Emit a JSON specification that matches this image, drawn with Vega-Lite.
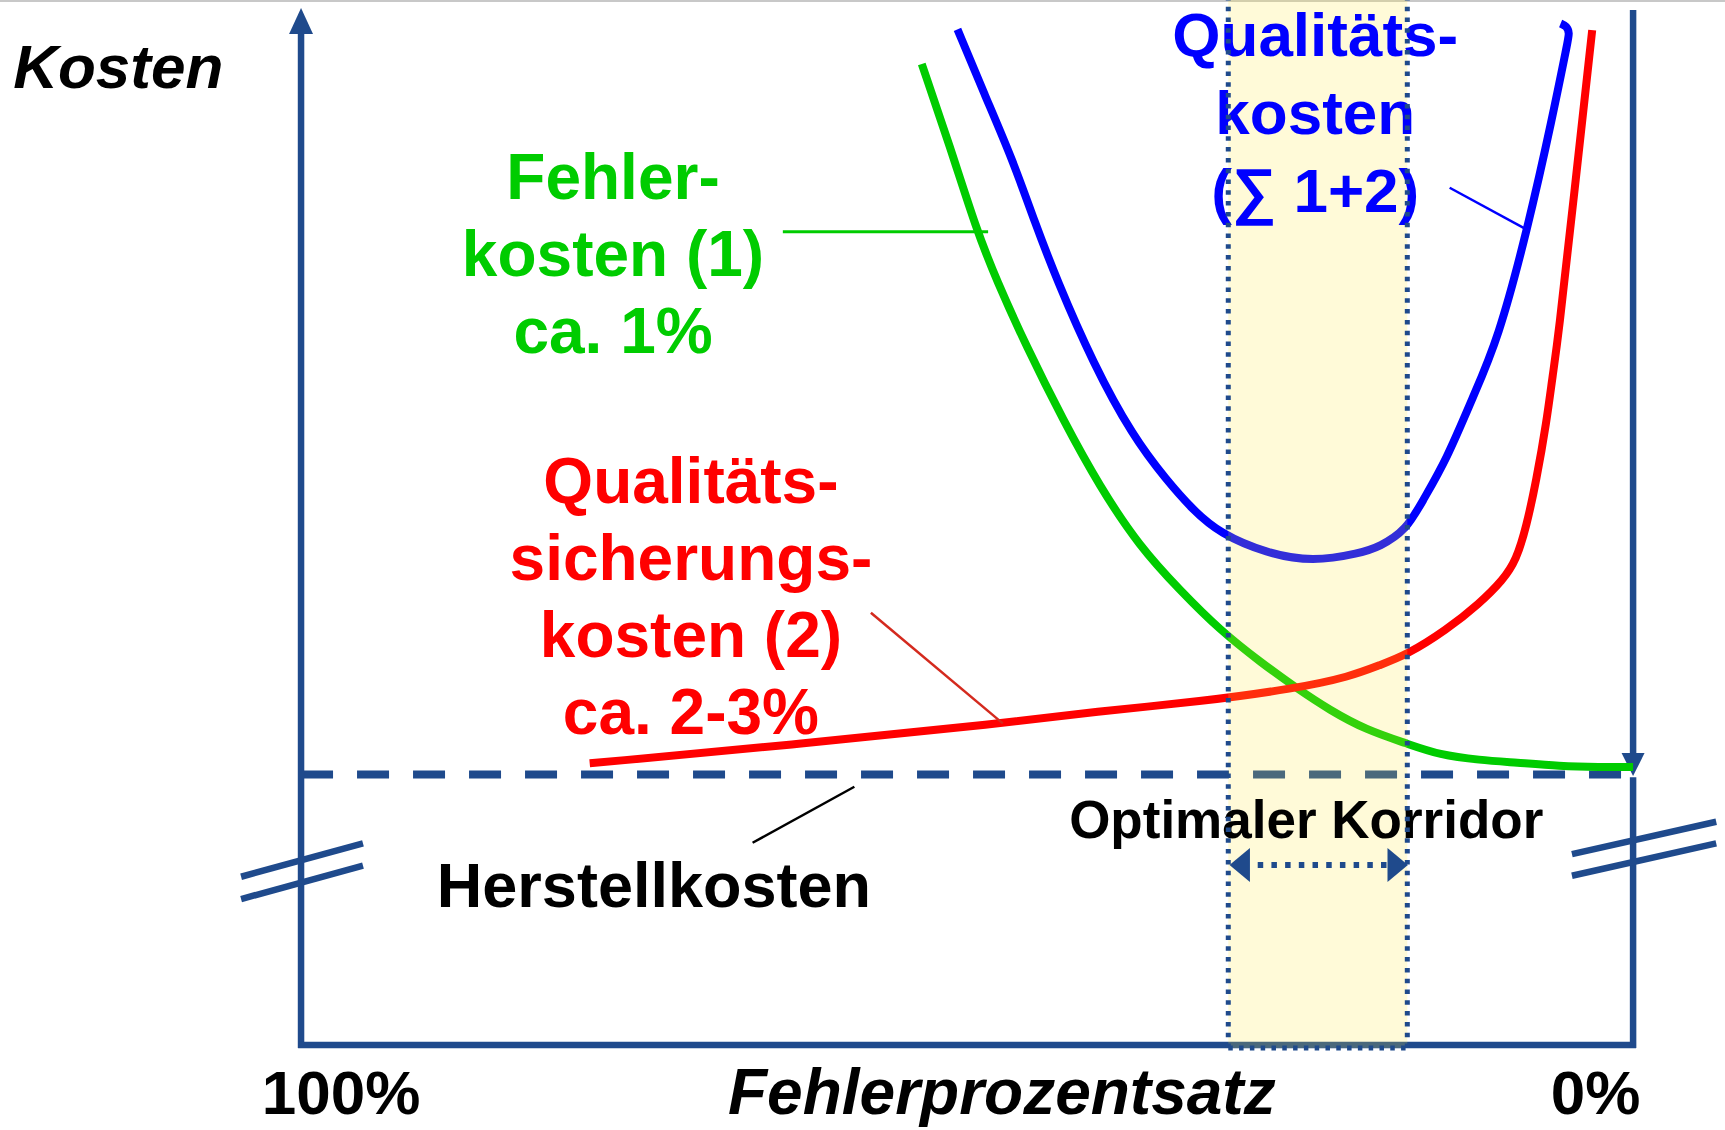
{
  "$schema": "https://vega.github.io/schema/vega-lite/v6.json",
  "width": 1725,
  "height": 1130,
  "padding": 0,
  "autosize": {"type": "none"},
  "background": "white",
  "config": {"view": {"stroke": null}},
  "datasets": {
    "curves": [
      {"series": "Fehlerkosten", "i": 0, "x": 53.40, "y": 362.53},
      {"series": "Fehlerkosten", "i": 1, "x": 51.29, "y": 332.23},
      {"series": "Fehlerkosten", "i": 2, "x": 49.29, "y": 301.18},
      {"series": "Fehlerkosten", "i": 3, "x": 47.79, "y": 282.71},
      {"series": "Fehlerkosten", "i": 4, "x": 45.54, "y": 258.06},
      {"series": "Fehlerkosten", "i": 5, "x": 42.79, "y": 230.97},
      {"series": "Fehlerkosten", "i": 6, "x": 40.04, "y": 206.32},
      {"series": "Fehlerkosten", "i": 7, "x": 37.04, "y": 184.15},
      {"series": "Fehlerkosten", "i": 8, "x": 34.03, "y": 168.15},
      {"series": "Fehlerkosten", "i": 9, "x": 31.03, "y": 153.36},
      {"series": "Fehlerkosten", "i": 11, "x": 27.88, "y": 141.17},
      {"series": "Fehlerkosten", "i": 12, "x": 25.28, "y": 131.93},
      {"series": "Fehlerkosten", "i": 13, "x": 22.78, "y": 123.80},
      {"series": "Fehlerkosten", "i": 14, "x": 20.02, "y": 116.41},
      {"series": "Fehlerkosten", "i": 15, "x": 17.02, "y": 111.49},
      {"series": "Fehlerkosten", "i": 16, "x": 14.52, "y": 107.17},
      {"series": "Fehlerkosten", "i": 17, "x": 11.52, "y": 105.32},
      {"series": "Fehlerkosten", "i": 18, "x": 8.77, "y": 104.40},
      {"series": "Fehlerkosten", "i": 19, "x": 5.52, "y": 103.10},
      {"series": "Fehlerkosten", "i": 20, "x": 2.51, "y": 102.73},
      {"series": "Fehlerkosten", "i": 21, "x": 0.0, "y": 102.73},
      {"series": "Qualitätssicherungskosten", "i": 0, "x": 78.33, "y": 104.10},
      {"series": "Qualitätssicherungskosten", "i": 1, "x": 62.55, "y": 111.23},
      {"series": "Qualitätssicherungskosten", "i": 2, "x": 47.32, "y": 118.88},
      {"series": "Qualitätssicherungskosten", "i": 3, "x": 40.04, "y": 123.43},
      {"series": "Qualitätssicherungskosten", "i": 4, "x": 32.53, "y": 126.87},
      {"series": "Qualitätssicherungskosten", "i": 6, "x": 25.28, "y": 131.82},
      {"series": "Qualitätssicherungskosten", "i": 7, "x": 21.28, "y": 136.10},
      {"series": "Qualitätssicherungskosten", "i": 8, "x": 19.02, "y": 140.43},
      {"series": "Qualitätssicherungskosten", "i": 9, "x": 17.02, "y": 144.12},
      {"series": "Qualitätssicherungskosten", "i": 10, "x": 14.02, "y": 153.36},
      {"series": "Qualitätssicherungskosten", "i": 11, "x": 11.52, "y": 163.23},
      {"series": "Qualitätssicherungskosten", "i": 12, "x": 9.77, "y": 171.84},
      {"series": "Qualitätssicherungskosten", "i": 13, "x": 8.77, "y": 179.23},
      {"series": "Qualitätssicherungskosten", "i": 14, "x": 8.01, "y": 191.54},
      {"series": "Qualitätssicherungskosten", "i": 15, "x": 7.26, "y": 208.80},
      {"series": "Qualitätssicherungskosten", "i": 16, "x": 6.51, "y": 229.75},
      {"series": "Qualitätssicherungskosten", "i": 17, "x": 6.02, "y": 248.23},
      {"series": "Qualitätssicherungskosten", "i": 18, "x": 5.64, "y": 260.53},
      {"series": "Qualitätssicherungskosten", "i": 19, "x": 4.39, "y": 315.97},
      {"series": "Qualitätssicherungskosten", "i": 20, "x": 3.07, "y": 375.09},
      {"series": "Qualitätskosten", "i": 0, "x": 50.72, "y": 375.35},
      {"series": "Qualitätskosten", "i": 1, "x": 48.67, "y": 351.07},
      {"series": "Qualitätskosten", "i": 2, "x": 46.57, "y": 327.05},
      {"series": "Qualitätskosten", "i": 3, "x": 44.92, "y": 304.14},
      {"series": "Qualitätskosten", "i": 4, "x": 43.26, "y": 282.71},
      {"series": "Qualitätskosten", "i": 5, "x": 40.54, "y": 251.92},
      {"series": "Qualitätskosten", "i": 6, "x": 37.54, "y": 224.80},
      {"series": "Qualitätskosten", "i": 7, "x": 35.03, "y": 208.80},
      {"series": "Qualitätskosten", "i": 8, "x": 33.04, "y": 197.71},
      {"series": "Qualitätskosten", "i": 9, "x": 31.03, "y": 189.10},
      {"series": "Qualitätskosten", "i": 10, "x": 27.53, "y": 181.71},
      {"series": "Qualitätskosten", "i": 11, "x": 24.03, "y": 178.60},
      {"series": "Qualitätskosten", "i": 12, "x": 20.53, "y": 181.71},
      {"series": "Qualitätskosten", "i": 13, "x": 19.02, "y": 184.15},
      {"series": "Qualitätskosten", "i": 14, "x": 17.02, "y": 190.32},
      {"series": "Qualitätskosten", "i": 15, "x": 15.77, "y": 201.40},
      {"series": "Qualitätskosten", "i": 16, "x": 14.02, "y": 216.19},
      {"series": "Qualitätskosten", "i": 17, "x": 12.02, "y": 239.58},
      {"series": "Qualitätskosten", "i": 18, "x": 10.15, "y": 260.53},
      {"series": "Qualitätskosten", "i": 19, "x": 7.94, "y": 301.18},
      {"series": "Qualitätskosten", "i": 20, "x": 6.04, "y": 343.05},
      {"series": "Qualitätskosten", "i": 21, "x": 4.92, "y": 370.66},
      {"series": "Qualitätskosten", "i": 22, "x": 4.77, "y": 373.98},
      {"series": "Qualitätskosten", "i": 23, "x": 4.99, "y": 376.57},
      {"series": "Qualitätskosten", "i": 24, "x": 5.44, "y": 377.50}
    ],
    "segments": [
      {"kind": "rand", "x": 122.6, "y": 385.8, "x2": -6.9, "y2": 385.8},
      {"kind": "herstell", "x": 100, "y": 100, "x2": 0.3, "y2": 100},
      {"kind": "achse", "x": 100, "y": -1.1, "x2": 100, "y2": 375.1},
      {"kind": "achse", "x": 100.22, "y": 0, "x2": -0.22, "y2": 0},
      {"kind": "achse", "x": 0, "y": 382.5, "x2": 0, "y2": 106},
      {"kind": "achse", "x": 0, "y": 99, "x2": 0, "y2": -1.1},
      {"kind": "achse", "x": 104.5, "y": 62.19, "x2": 95.35, "y2": 74.54},
      {"kind": "achse", "x": 104.5, "y": 53.95, "x2": 95.35, "y2": 66.26},
      {"kind": "achse", "x": 4.59, "y": 70.58, "x2": -6.24, "y2": 82.52},
      {"kind": "achse", "x": 4.59, "y": 62.56, "x2": -6.24, "y2": 74.54},
      {"kind": "leader_fehler", "x": 63.83, "y": 300.56, "x2": 48.42, "y2": 300.56},
      {"kind": "leader_qs", "x": 57.22, "y": 159.76, "x2": 47.32, "y2": 118.88},
      {"kind": "leader_q", "x": 13.77, "y": 316.82, "x2": 8.01, "y2": 301.44},
      {"kind": "leader_herstell", "x": 66.10, "y": 74.76, "x2": 58.46, "y2": 95.45},
      {"kind": "korridor", "x": 30.39, "y": -1.1, "x2": 30.39, "y2": 386.5},
      {"kind": "korridor", "x": 16.95, "y": -1.1, "x2": 16.95, "y2": 386.5},
      {"kind": "korridor", "x": 30.39, "y": -1.1, "x2": 16.95, "y2": -1.1},
      {"kind": "korridorpfeil", "x": 28.18, "y": 66.52, "x2": 18.27, "y2": 66.52}
    ],
    "corridor": [
      {"x": 30.39, "x2": 16.95, "y": -1.1, "y2": 386.5}
    ],
    "arrows": [
      {"kind": "hoch", "x": 100, "y": 378.42},
      {"kind": "runter", "x": 0, "y": 103.66},
      {"kind": "links", "x": 29.53, "y": 66.52},
      {"kind": "rechts", "x": 17.67, "y": 66.52}
    ],
    "labels": [
      {"kind": "ytitel", "text": "Kosten", "x": 121.61, "y": 353.66},
      {"kind": "xtitel", "text": "Fehlerprozentsatz", "x": 47.39, "y": -25.5},
      {"kind": "tick", "text": "100%", "x": 97.0, "y": -25.5},
      {"kind": "tick", "text": "0%", "x": 2.81, "y": -25.5},
      {"kind": "herstell", "text": "Herstellkosten", "x": 73.51, "y": 51.0},
      {"kind": "korridor", "text": "Optimaler Korridor", "x": 24.54, "y": 76.5},
      {"kind": "fehler", "text": ["Fehler-", "kosten (1)", "ca. 1%"], "x": 76.58, "y": 312.53},
      {"kind": "qs", "text": ["Qualitäts-", "sicherungs-", "kosten (2)", "ca. 2-3%"], "x": 70.73, "y": 200.19},
      {"kind": "q", "text": ["Qualitäts-", "kosten", "(∑ 1+2)"], "x": 23.86, "y": 365.49}
    ]
  },
  "encoding": {
    "x": {"field": "x", "type": "quantitative", "scale": {"domain": [-6.9, 122.6], "reverse": true, "nice": false, "zero": false}, "axis": null},
    "y": {"field": "y", "type": "quantitative", "scale": {"domain": [-31.4, 386.2], "nice": false, "zero": false}, "axis": null}
  },
  "layer": [
    {
      "data": {"name": "segments"},
      "transform": [{"filter": "datum.kind === 'rand'"}],
      "mark": {"type": "rule", "color": "#C8C8C8", "strokeWidth": 2},
      "encoding": {"x2": {"field": "x2"}, "y2": {"field": "y2"}}
    },
    {
      "data": {"name": "segments"},
      "transform": [{"filter": "datum.kind === 'herstell'"}],
      "mark": {"type": "rule", "color": "#1F4A8C", "strokeWidth": 8, "strokeDash": [32, 24]},
      "encoding": {"x2": {"field": "x2"}, "y2": {"field": "y2"}}
    },
    {
      "data": {"name": "segments"},
      "transform": [{"filter": "datum.kind === 'achse'"}],
      "mark": {"type": "rule", "color": "#1F4A8C", "strokeWidth": 6.5},
      "encoding": {"x2": {"field": "x2"}, "y2": {"field": "y2"}}
    },
    {
      "data": {"name": "arrows"},
      "transform": [{"filter": "datum.kind === 'hoch'"}],
      "mark": {"type": "point", "shape": "M0,-1L0.92,1L-0.92,1Z", "filled": true, "color": "#1F4A8C", "opacity": 1, "size": 676, "strokeWidth": 0}
    },
    {
      "data": {"name": "arrows"},
      "transform": [{"filter": "datum.kind === 'runter'"}],
      "mark": {"type": "point", "shape": "M0,1L1,-1L-1,-1Z", "filled": true, "color": "#1F4A8C", "opacity": 1, "size": 529, "strokeWidth": 0}
    },
    {
      "data": {"name": "curves"},
      "mark": {"type": "line", "strokeWidth": 8, "interpolate": "basis", "strokeJoin": "round"},
      "encoding": {
        "order": {"field": "i", "type": "quantitative"},
        "color": {"field": "series", "type": "nominal", "scale": {"domain": ["Fehlerkosten", "Qualitätssicherungskosten", "Qualitätskosten"], "range": ["#00CC00", "#FF0000", "#0000FF"]}, "legend": null}
      }
    },
    {
      "data": {"name": "segments"},
      "transform": [{"filter": "datum.kind === 'leader_fehler'"}],
      "mark": {"type": "rule", "color": "#00CC00", "strokeWidth": 3},
      "encoding": {"x2": {"field": "x2"}, "y2": {"field": "y2"}}
    },
    {
      "data": {"name": "segments"},
      "transform": [{"filter": "datum.kind === 'leader_qs'"}],
      "mark": {"type": "rule", "color": "#D42A1E", "strokeWidth": 2.5},
      "encoding": {"x2": {"field": "x2"}, "y2": {"field": "y2"}}
    },
    {
      "data": {"name": "segments"},
      "transform": [{"filter": "datum.kind === 'leader_q'"}],
      "mark": {"type": "rule", "color": "#0000FF", "strokeWidth": 2.5},
      "encoding": {"x2": {"field": "x2"}, "y2": {"field": "y2"}}
    },
    {
      "data": {"name": "segments"},
      "transform": [{"filter": "datum.kind === 'leader_herstell'"}],
      "mark": {"type": "rule", "color": "#000000", "strokeWidth": 2.5},
      "encoding": {"x2": {"field": "x2"}, "y2": {"field": "y2"}}
    },
    {
      "data": {"name": "corridor"},
      "mark": {"type": "rect", "color": "#FFE63C", "opacity": 0.2},
      "encoding": {"x2": {"field": "x2"}, "y2": {"field": "y2"}}
    },
    {
      "data": {"name": "labels"},
      "transform": [{"filter": "datum.kind === 'ytitel'"}],
      "mark": {"type": "text", "font": "Liberation Sans", "fontWeight": "bold", "fontStyle": "italic", "fontSize": 62, "align": "left", "baseline": "alphabetic", "color": "#000000"},
      "encoding": {"text": {"field": "text", "type": "nominal"}}
    },
    {
      "data": {"name": "labels"},
      "transform": [{"filter": "datum.kind === 'xtitel'"}],
      "mark": {"type": "text", "font": "Liberation Sans", "fontWeight": "bold", "fontStyle": "italic", "fontSize": 64, "align": "center", "baseline": "alphabetic", "color": "#000000"},
      "encoding": {"text": {"field": "text", "type": "nominal"}}
    },
    {
      "data": {"name": "labels"},
      "transform": [{"filter": "datum.kind === 'tick'"}],
      "mark": {"type": "text", "font": "Liberation Sans", "fontWeight": "bold", "fontSize": 62, "align": "center", "baseline": "alphabetic", "color": "#000000"},
      "encoding": {"text": {"field": "text", "type": "nominal"}}
    },
    {
      "data": {"name": "labels"},
      "transform": [{"filter": "datum.kind === 'herstell'"}],
      "mark": {"type": "text", "font": "Liberation Sans", "fontWeight": "bold", "fontSize": 63, "align": "center", "baseline": "alphabetic", "color": "#000000"},
      "encoding": {"text": {"field": "text", "type": "nominal"}}
    },
    {
      "data": {"name": "labels"},
      "transform": [{"filter": "datum.kind === 'korridor'"}],
      "mark": {"type": "text", "font": "Liberation Sans", "fontWeight": "bold", "fontSize": 53, "align": "center", "baseline": "alphabetic", "color": "#000000"},
      "encoding": {"text": {"field": "text", "type": "nominal"}}
    },
    {
      "data": {"name": "labels"},
      "transform": [{"filter": "datum.kind === 'fehler'"}],
      "mark": {"type": "text", "font": "Liberation Sans", "fontWeight": "bold", "fontSize": 64, "lineHeight": 77, "align": "center", "baseline": "alphabetic", "color": "#00CC00"},
      "encoding": {"text": {"field": "text", "type": "nominal"}}
    },
    {
      "data": {"name": "labels"},
      "transform": [{"filter": "datum.kind === 'qs'"}],
      "mark": {"type": "text", "font": "Liberation Sans", "fontWeight": "bold", "fontSize": 64, "lineHeight": 77, "align": "center", "baseline": "alphabetic", "color": "#FF0000"},
      "encoding": {"text": {"field": "text", "type": "nominal"}}
    },
    {
      "data": {"name": "labels"},
      "transform": [{"filter": "datum.kind === 'q'"}],
      "mark": {"type": "text", "font": "Liberation Sans", "fontWeight": "bold", "fontSize": 62, "lineHeight": 78, "align": "center", "baseline": "alphabetic", "color": "#0000FF"},
      "encoding": {"text": {"field": "text", "type": "nominal"}}
    },
    {
      "data": {"name": "segments"},
      "transform": [{"filter": "datum.kind === 'korridor'"}],
      "mark": {"type": "rule", "color": "#1F4A8C", "strokeWidth": 5, "strokeDash": [4.5, 6.3]},
      "encoding": {"x2": {"field": "x2"}, "y2": {"field": "y2"}}
    },
    {
      "data": {"name": "segments"},
      "transform": [{"filter": "datum.kind === 'korridorpfeil'"}],
      "mark": {"type": "rule", "color": "#1F4A8C", "strokeWidth": 6, "strokeDash": [5.5, 8.2]},
      "encoding": {"x2": {"field": "x2"}, "y2": {"field": "y2"}}
    },
    {
      "data": {"name": "arrows"},
      "transform": [{"filter": "datum.kind === 'links'"}],
      "mark": {"type": "point", "shape": "M-0.6,0L0.6,-1L0.6,1Z", "filled": true, "color": "#1F4A8C", "opacity": 1, "size": 1156, "strokeWidth": 0}
    },
    {
      "data": {"name": "arrows"},
      "transform": [{"filter": "datum.kind === 'rechts'"}],
      "mark": {"type": "point", "shape": "M0.6,0L-0.6,-1L-0.6,1Z", "filled": true, "color": "#1F4A8C", "opacity": 1, "size": 1156, "strokeWidth": 0}
    }
  ]
}
